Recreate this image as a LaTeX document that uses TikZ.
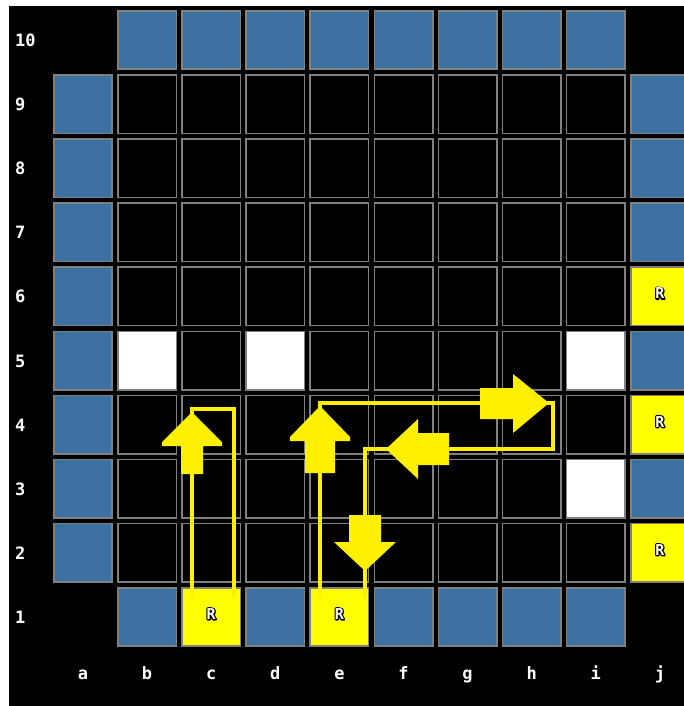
\documentclass[tikz,border=0pt]{standalone}
\usepackage{fontspec}
\setmonofont{DejaVu Sans Mono}
\usetikzlibrary{calc}
\definecolor{tileblue}{RGB}{60,112,160}
\definecolor{tilegrey}{RGB}{128,128,128}
\definecolor{tileyellow}{RGB}{255,255,0}
\definecolor{pathyellow}{RGB}{255,240,0}
\newcommand\mycell[4]{%
  \pgfmathsetmacro\cx{83+64.1*#1}%
  \pgfmathsetmacro\cy{40+64.1*(10-#2)}%
  \node[cell,fill=#3] (#4) at (\cx,\cy) {};%
}
\newcommand\outlinedR{\rlap{\special{pdf:literal direct q 1 Tr 2.4 w 1 j 0 0 0 RG}R\special{pdf:literal direct Q}}\special{pdf:literal direct q 0 Tr 1 1 1 rg}R\special{pdf:literal direct Q}}
\newcommand\rmark[1]{%
  \node[rlbl] (#1-R) at ($(#1)+(0,-3)$) {\outlinedR};%
}
\begin{document}
\begin{tikzpicture}[x=1pt,y=-1pt,
  cell/.style={rectangle,draw=tilegrey,line width=1.6pt,minimum size=58.4pt,inner sep=0pt},
  lbl/.style={text=white,font=\ttfamily\bfseries\fontsize{17}{17}\selectfont,inner sep=0pt},
  rlbl/.style={font=\ttfamily\bfseries\fontsize{15}{15}\selectfont,inner sep=0pt},
  route/.style={draw=pathyellow,line width=4.5pt},
  barrow/.style={fill=pathyellow}]
\useasboundingbox (0,0) rectangle (683,706);
\fill[white] (0,0) rectangle (683,706);
\fill[black] (9,6) rectangle (695,712);
% row labels
\foreach \r in {1,...,10} {
  \pgfmathsetmacro\ly{40+64.1*(10-\r)+6.5}
  \node[lbl,anchor=base west] (row\r) at (15,\ly) {\r};
}
% column labels
\foreach \c/\l in {0/a,1/b,2/c,3/d,4/e,5/f,6/g,7/h,8/i,9/j} {
  \pgfmathsetmacro\lx{83+64.1*\c}
  \node[lbl,anchor=base] (col\l) at (\lx,679) {\l};
}
% blue border cells
\foreach \c/\l in {1/b,2/c,3/d,4/e,5/f,6/g,7/h,8/i} {\mycell{\c}{10}{tileblue}{\l10}}
\foreach \r in {2,...,9} {\mycell{0}{\r}{tileblue}{a\r}}
\foreach \r in {9,8,7,5,3} {\mycell{9}{\r}{tileblue}{j\r}}
\foreach \c/\l in {1/b,3/d,5/f,6/g,7/h,8/i} {\mycell{\c}{1}{tileblue}{\l1}}
% inner black cells
\foreach \r in {2,...,9} {
  \foreach \c/\l in {1/b,2/c,3/d,4/e,5/f,6/g,7/h,8/i} {\mycell{\c}{\r}{black}{\l\r}}
}
% white cells
\mycell{1}{5}{white}{b5}
\mycell{3}{5}{white}{d5}
\mycell{8}{5}{white}{i5}
\mycell{8}{3}{white}{i3}
% yellow R cells
\mycell{9}{6}{tileyellow}{j6}
\mycell{9}{4}{tileyellow}{j4}
\mycell{9}{2}{tileyellow}{j2}
\mycell{2}{1}{tileyellow}{c1}
\mycell{4}{1}{tileyellow}{e1}
% route 1 (c)
\coordinate (p1a) at (192,598);
\coordinate (p1b) at (192,409);
\coordinate (p1c) at (234,409);
\coordinate (p1d) at (234,598);
\draw[route] (p1a) -- (p1b) -- (p1c) -- (p1d);
% route 2 (e)
\coordinate (p2a) at (320,598);
\coordinate (p2b) at (320,403);
\coordinate (p2c) at (553,403);
\coordinate (p2d) at (553,449);
\coordinate (p2e) at (365,449);
\coordinate (p2f) at (365,598);
\draw[route] (p2a) -- (p2b) -- (p2c) -- (p2d) -- (p2e) -- (p2f);
% block arrows
\fill[barrow] (192,412) -- (222,442) -- (222,446) -- (203,446) -- (203,474) -- (181,474) -- (181,446) -- (162,446) -- (162,442) -- cycle;
\fill[barrow] (320,406) -- (350,437) -- (350,441) -- (335,441) -- (335,473) -- (305,473) -- (305,441) -- (290,441) -- (290,437) -- cycle;
\fill[barrow] (549,403) -- (513,374) -- (513,388) -- (480,388) -- (480,419) -- (513,419) -- (513,433) -- cycle;
\fill[barrow] (386,449) -- (418,419) -- (418,433) -- (449,433) -- (449,465) -- (418,465) -- (418,479) -- cycle;
\fill[barrow] (365,571) -- (396,542) -- (381,542) -- (381,515) -- (349,515) -- (349,542) -- (334,542) -- cycle;
% R marks
\rmark{j6}
\rmark{j4}
\rmark{j2}
\rmark{c1}
\rmark{e1}
\end{tikzpicture}
\end{document}
